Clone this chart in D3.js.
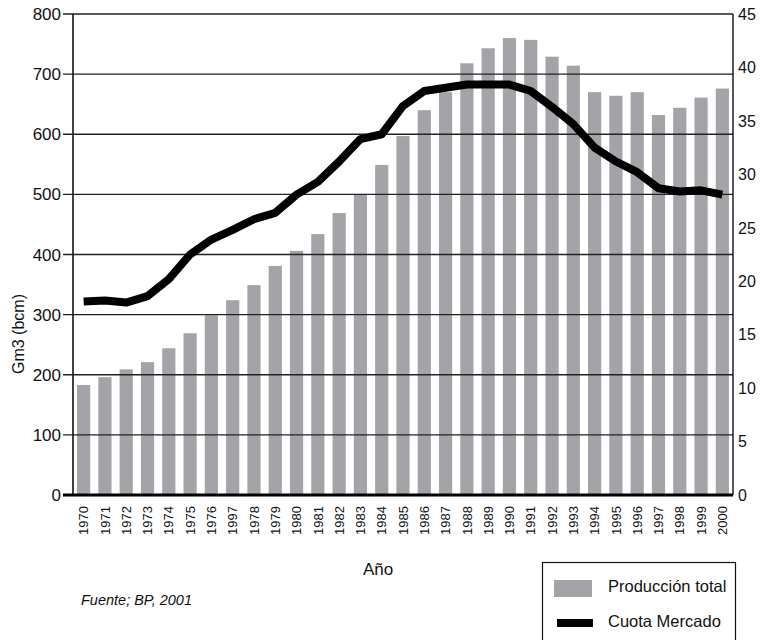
<!DOCTYPE html>
<html><head><meta charset="utf-8">
<script src="https://cdn.jsdelivr.net/npm/d3@7"></script>
<style>body{margin:0;background:#fff}svg{display:block;font-family:"Liberation Sans",Arial,sans-serif}</style>
</head><body><svg id="c" width="760" height="640"></svg>
<script>
const years = ["1970","1971","1972","1973","1974","1975","1976","1997","1978","1979","1980","1981","1982","1983","1984","1985","1986","1987","1988","1989","1990","1991","1992","1993","1994","1995","1996","1997","1998","1999","2000"];
const produccion = [183,196,209,221,244,269,299,324,349,381,406,434,469,499,549,597,640,670,718,743,760,757,729,714,670,664,670,632,644,661,676];
const cuota = [18.1,18.2,18.0,18.6,20.2,22.5,23.9,24.8,25.8,26.4,28.1,29.3,31.2,33.3,33.75,36.4,37.8,38.1,38.4,38.4,38.4,37.8,36.3,34.7,32.5,31.2,30.2,28.7,28.4,28.5,28.1];
const leftTicks = [0,100,200,300,400,500,600,700,800];
const rightTicks = [0,5,10,15,20,25,30,35,40,45];
const legendLabels = ["Producción total","Cuota Mercado"];

const svg = d3.select("#c");
const L = 73, R = 733, T = 14, B = 495;
const idx = years.map((d,i)=>i);
const x = d3.scaleBand().domain(idx).range([L,R]).paddingInner(0.38).paddingOuter(0.19);
const yL = d3.scaleLinear().domain([0,800]).range([B,T]);
const yR = d3.scaleLinear().domain([0,45]).range([B,T]);

// bars
svg.append("g").selectAll("rect").data(produccion).join("rect")
  .attr("x",(d,i)=>x(i)).attr("width",x.bandwidth())
  .attr("y",d=>yL(d)).attr("height",d=>B-yL(d)).attr("fill","#a4a3a8");

// grid lines + left ticks
svg.append("g").selectAll("line").data(leftTicks.filter(d=>d>0)).join("line")
  .attr("x1",63).attr("x2",R).attr("y1",d=>yL(d)).attr("y2",d=>yL(d))
  .attr("stroke","#222").attr("stroke-width",1.4);

// left axis labels
svg.append("g").selectAll("text").data(leftTicks).join("text")
  .attr("x",61).attr("y",d=>yL(d)).attr("dy","0.36em").attr("text-anchor","end")
  .attr("font-size",17).attr("fill","#111").text(d=>d);

// right labels
svg.append("g").selectAll("text").data(rightTicks).join("text")
  .attr("x",738).attr("y",d=>yR(d)).attr("dy","0.36em").attr("text-anchor","start")
  .attr("font-size",16).attr("fill","#111").text(d=>d);

// axis lines
svg.append("line").attr("x1",L).attr("x2",L).attr("y1",T).attr("y2",B).attr("stroke","#111").attr("stroke-width",1.6);
svg.append("line").attr("x1",R).attr("x2",R).attr("y1",T).attr("y2",B).attr("stroke","#111").attr("stroke-width",1.4);
svg.append("line").attr("x1",63).attr("x2",R).attr("y1",B).attr("y2",B).attr("stroke","#000").attr("stroke-width",3.2);

// line
const line = d3.line().x((d,i)=>x(i)+x.bandwidth()/2).y(d=>yR(d));
svg.append("path").datum(cuota).attr("d",line).attr("fill","none")
  .attr("stroke","#000").attr("stroke-width",8).attr("stroke-linejoin","round");

// x labels
svg.append("g").selectAll("text").data(years).join("text")
  .attr("transform",(d,i)=>`translate(${x(i)+x.bandwidth()/2},506) rotate(-90)`)
  .attr("text-anchor","end").attr("dy","0.36em").attr("font-size",13).attr("fill","#111").text(d=>d);

// axis titles
svg.append("text").attr("transform","translate(18,334) rotate(-90)").attr("dy","0.36em")
  .attr("text-anchor","middle").attr("font-size",16).attr("fill","#111").text("Gm3 (bcm)");
svg.append("text").attr("x",378).attr("y",575).attr("text-anchor","middle")
  .attr("font-size",17).attr("fill","#111").text("Año");
svg.append("text").attr("x",81).attr("y",605).attr("font-style","italic")
  .attr("font-size",14.5).attr("fill","#111").text("Fuente; BP, 2001");

// legend
svg.append("rect").attr("x",542.5).attr("y",562.5).attr("width",193).attr("height",90)
  .attr("fill","#fff").attr("stroke","#111").attr("stroke-width",1.2);
svg.append("rect").attr("x",554).attr("y",580).attr("width",38).attr("height",17).attr("fill","#a4a3a8");
svg.append("rect").attr("x",557).attr("y",619).attr("width",36).attr("height",8).attr("fill","#000");
svg.append("g").selectAll("text").data(legendLabels).join("text")
  .attr("x",608).attr("y",(d,i)=>i?627:592).attr("font-size",16.5).attr("fill","#111").text(d=>d);
</script></body></html>
